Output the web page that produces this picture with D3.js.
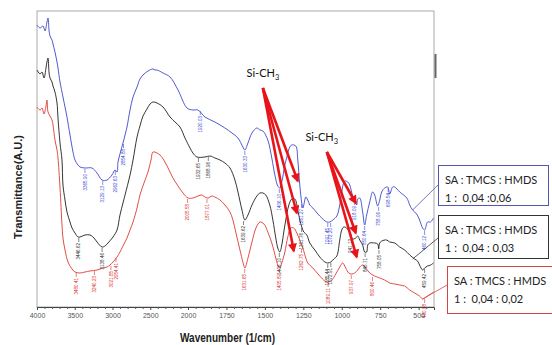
<!DOCTYPE html>
<html lang="en">
<head>
<meta charset="UTF-8">
<title>FTIR spectra</title>
<script src="https://d3js.org/d3.v7.min.js"></script>
<style>
  body { margin: 0; background: #fff; }
  svg text { font-family: "Liberation Sans", Arial, sans-serif; }
  .legend text, .anno text { font-family: Lato, "Open Sans", sans-serif; }
</style>
</head>
<body>
<script>
// [wavenumber (1/cm), transmittance (A.U.)]
const blueData = [[4000,70.5],[3960,69.75],[3921,70.25],[3894,69],[3868,71.25],[3854,72.25],[3841,69.25],[3828,67.75],[3801,66.75],[3788,65.75],[3762,63.75],[3735,61.25],[3722,59.75],[3695,56.25],[3656,52.5],[3629,50],[3603,47.5],[3563,43],[3523,38.75],[3497,36.75],[3457,35.5],[3430,35],[3364,34.75],[3272,34.75],[3205,33.5],[3139,31.75],[3073,31.75],[3007,33],[2967,34.25],[2940,33.75],[2927,36.25],[2901,38.25],[2861,41],[2834,43],[2808,45],[2768,49.25],[2728,52.5],[2675,55],[2636,57],[2596,58],[2530,59],[2464,59.5],[2437,59.25],[2411,59.25],[2331,58.5],[2238,57.5],[2132,54.25],[2013,49.75],[1968,49.25],[1935,49.25],[1890,47.5],[1825,46.25],[1760,44.75],[1714,43.5],[1675,42.25],[1643,40],[1630,39.25],[1610,41],[1584,43.5],[1552,44.75],[1532,44.25],[1513,44],[1481,41.75],[1455,37.25],[1435,33],[1416,30.25],[1403,29.75],[1390,31.25],[1370,35.5],[1357,37.5],[1338,40],[1325,40.5],[1299,40.25],[1286,36.75],[1273,30.5],[1260,26],[1253,24.75],[1240,26.75],[1234,27.5],[1221,26.75],[1208,25.5],[1188,24.75],[1143,22.75],[1097,21.25],[1078,21.25],[1058,21.75],[1032,22.75],[1013,25.5],[1000,28.75],[981,31.5],[961,31.25],[948,30.5],[929,27.75],[916,26.75],[903,25.5],[896,27],[883,27.25],[864,23.75],[851,20.5],[838,23],[818,26.25],[799,28.75],[786,28],[766,25.25],[753,26.75],[740,28.75],[721,29.75],[701,30],[688,28.25],[669,30],[656,30],[623,28.75],[577,27.25],[558,25.5],[539,24.25],[513,23.25],[494,21.75],[474,19.75],[461,19.25],[442,21.25],[422,21.25],[403,22.25]]

const blackData = [[4000,59.25],[3960,58.25],[3934,58.75],[3907,57.25],[3881,59.75],[3868,61.25],[3854,62.25],[3841,58.75],[3828,57.25],[3801,56.25],[3788,55.25],[3762,53.75],[3735,51],[3722,47.25],[3695,41],[3669,36.75],[3656,30.5],[3629,26.75],[3603,23.75],[3563,21.25],[3536,19.75],[3497,18.5],[3457,17.5],[3430,17.5],[3364,18],[3298,18],[3245,17.25],[3205,16.25],[3139,15],[3099,15.25],[3060,16],[2993,17.5],[2940,19.25],[2901,23],[2861,26],[2834,28],[2768,33],[2728,36.75],[2675,42.5],[2636,45.25],[2596,47.75],[2543,49.5],[2503,50.75],[2464,51.25],[2411,51],[2331,50],[2238,47.5],[2172,46.25],[2106,45],[2040,42.25],[1987,39.75],[1968,38.5],[1942,37.5],[1890,37.5],[1857,37.75],[1825,37.25],[1792,36.75],[1760,36],[1727,34.75],[1695,31.75],[1675,28.75],[1649,24.25],[1630,21.75],[1610,23],[1584,25.5],[1552,27.75],[1532,28.5],[1513,28.5],[1494,28],[1468,25.5],[1448,21.75],[1429,17.25],[1416,14.75],[1403,13.75],[1390,15.5],[1377,18.75],[1364,21.75],[1344,25.5],[1325,27],[1305,27],[1286,24.25],[1273,21.75],[1260,20],[1247,18.75],[1227,18],[1208,16],[1175,14.25],[1143,12.5],[1110,11.25],[1091,11],[1071,11.25],[1052,12],[1032,12.75],[1013,16.75],[1000,19.25],[987,20],[968,19.75],[948,18.5],[929,17],[909,17.25],[896,17.75],[883,16.75],[864,15.5],[851,13.75],[838,13.75],[831,15.5],[818,16],[786,16],[766,15.75],[760,14.5],[753,16],[740,16.5],[708,16.75],[688,16.25],[656,16],[623,15],[591,14.25],[558,13],[526,12],[507,11.5],[494,10.5],[474,9.25],[461,9.75],[442,10.25],[422,10.5],[403,11]]

const redData = [[4000,50],[3960,49.25],[3934,49.75],[3907,48.25],[3881,50.25],[3868,51.75],[3854,48.75],[3828,47.75],[3801,46.75],[3788,45.5],[3762,41.75],[3735,39.25],[3722,37.25],[3695,29.75],[3669,20.5],[3656,17.25],[3629,14.25],[3589,11.25],[3536,9.5],[3497,8.75],[3430,8.5],[3364,8.75],[3298,9],[3205,9.25],[3126,9.75],[3073,10],[3033,10.5],[2993,11.25],[2940,12.5],[2901,13.75],[2861,15.25],[2808,17.25],[2768,19.25],[2728,21.25],[2675,24.75],[2636,28],[2583,31],[2530,33.75],[2490,36.75],[2464,38.75],[2411,38.5],[2371,38],[2305,36.25],[2238,33.75],[2199,32.25],[2132,30.25],[2066,28.5],[2000,27.25],[1968,27.25],[1935,27.75],[1909,28],[1890,27.5],[1870,27.25],[1844,27.75],[1825,27.5],[1792,26.75],[1760,25.5],[1727,23.75],[1708,21.75],[1688,18.5],[1662,14.25],[1643,11.25],[1630,9.75],[1610,12.25],[1584,16.25],[1558,19.75],[1532,21.25],[1506,20.75],[1481,18.75],[1455,16],[1429,12.25],[1416,10.5],[1403,9.75],[1390,11],[1370,13.75],[1351,17.5],[1331,19.75],[1312,19.75],[1292,18.5],[1273,16.75],[1253,14.75],[1234,12.25],[1221,11],[1188,9.75],[1143,7.75],[1110,6.5],[1091,6.25],[1065,6.75],[1039,8.25],[1013,10],[994,11],[974,9.75],[955,8.5],[935,8.25],[916,8.5],[896,9.25],[877,10.25],[864,10.5],[844,9.75],[818,8.5],[786,7.75],[753,7.25],[721,6.75],[688,6],[656,5.75],[623,5.5],[591,5.25],[558,4.25],[526,3.5],[494,2.75],[474,2],[461,2.25],[442,2.75],[422,3.25],[403,3.75]]

// peak annotations [wavenumber, label]
const blueLabels = [[3365,"3365.90"],[3129,"3129.13"],[2962,"2962.63"],[2854,"2854.88"],[1920,"1920.03"],[1630,"1630.33"],[1406,"1406.10"],[1261,"1261.27"],[1091,"1091.45"],[1072,"1072.20"],[916,"918.09"],[851,"850.64"],[760,"758.06"],[698,"698.54"],[461,"460.12"]]
const blackLabels = [[3446,"3446.62"],[3138,"3138.46"],[1932,"1932.65"],[1868,"1868.96"],[1639,"1639.62"],[1406,"1406.10"],[1261,"1261.76"],[1091,"1085.44"],[1071,"1072.91"],[941,"941.12"],[848,"848.71"],[758,"758.05"],[461,"459.42"]]
const redLabels = [[3480,"3480.41"],[3240,"3240.23"],[3021,"3021.85"],[2954,"2954.41"],[2005,"2005.58"],[1877,"1877.01"],[1631,"1631.65"],[1405,"1405.89"],[1262,"1262.75"],[1089,"1089.11"],[938,"937.97"],[800,"800.46"],[461,"460.88"]]

const majorTicks = [4000, 3500, 3000, 2500, 2000, 1750, 1500, 1250, 1000, 750, 500]
const minorTicks = d3.range(3900, 2000, -100).concat(d3.range(1950, 400, -50))

const legendTitles = ["SA : TMCS : HMDS", "SA : TMCS : HMDS", "SA : TMCS : HMDS"]
const legendRatios = ["1 :  0,04 :0,06", "1 :  0,04 : 0,03", "1 :  0,04 : 0,02"]

// Si-CH3 arrows: label position, arrow origin, arrow targets
const siLabels = [[1513, 57.5], [1130, 41.5]]
const arrowGroups = [
    { from: [1513, 54.75], to: [[1286, 31.5], [1292, 23.5], [1312, 14]] },
    { from: [1097, 38.75], to: [[909, 26], [909, 18.5], [903, 12.5]] }
]

const width = 552, height = 345
const x = d3.scaleLinear().domain([4000, 2000, 400]).range([37, 188, 434])
const y = d3.scaleLinear().domain([0, 74]).range([307, 11])

const series = [
    { data: blueData, labels: blueLabels, color: "#3c46c8", labelColor: "#3a48d0", connect: 539, box: { x: 438, y: 165, w: 110, h: 40, stroke: "#5555b0" }, end: 185 },
    { data: blackData, labels: blackLabels, color: "#1e1e1e", labelColor: "#333", connect: 539, box: { x: 438, y: 215, w: 110, h: 43, stroke: "#333" }, end: 238 },
    { data: redData, labels: redLabels, color: "#de3a34", labelColor: "#d83030", connect: 474, box: { x: 447, y: 266, w: 112, h: 47, stroke: "#d64545" }, end: 285 }
]

const svg = d3.select("body").append("svg")
    .attr("width", width)
    .attr("height", height)

svg.append("rect").attr("width", width).attr("height", height).attr("fill", "#fff")

svg.append("rect")
    .attr("x", 37).attr("y", 11)
    .attr("width", 434 - 37).attr("height", 307 - 11)
    .attr("fill", "none").attr("stroke", "#aaa")
svg.append("line")
    .attr("x1", 435.5).attr("x2", 435.5).attr("y1", 54).attr("y2", 78)
    .attr("stroke", "#666").attr("stroke-width", 2)

const line = d3.line()
    .x(d => x(d[0]))
    .y(d => y(d[1]))
    .curve(d3.curveCatmullRom.alpha(0.5))

series.forEach(s => {
    svg.append("path")
        .attr("d", line(s.data))
        .attr("fill", "none")
        .attr("stroke", s.color)
        .attr("stroke-width", 0.9)
})

// peak labels
series.forEach(s => {
    const g = svg.append("g").attr("fill", s.labelColor)
    s.labels.forEach(([wn, txt]) => {
        const p = d3.least(s.data, d => Math.abs(d[0] - wn))
        const px = x(wn), py = y(p[1])
        g.append("line")
            .attr("x1", px).attr("x2", px)
            .attr("y1", py + 1).attr("y2", py + 5)
            .attr("stroke", s.labelColor).attr("stroke-width", 0.6)
        g.append("text")
            .attr("transform", `translate(${px},${py + 6}) rotate(-90)`)
            .attr("text-anchor", "end")
            .attr("dy", "0.35em")
            .style("font-size", "4.6px")
            .text(txt)
    })
})

// x axis
const xAxis = svg.append("g")
    .attr("transform", "translate(0,307)")
    .call(d3.axisBottom(x).tickValues(majorTicks).tickSize(3).tickFormat(d3.format("d")))
xAxis.select(".domain").attr("stroke", "#444")
xAxis.selectAll(".tick line").attr("stroke", "#444")
xAxis.selectAll("text").attr("fill", "#555").style("font-size", "7px")

const minor = svg.append("g")
    .attr("transform", "translate(0,307)")
    .call(d3.axisBottom(x).tickValues(minorTicks.filter(t => !majorTicks.includes(t))).tickSize(2).tickFormat(""))
minor.select(".domain").remove()
minor.selectAll(".tick line").attr("stroke", "#555")

svg.append("text")
    .attr("x", 180).attr("y", 342)
    .attr("textLength", 95)
    .attr("lengthAdjust", "spacingAndGlyphs")
    .style("font-weight", "bold")
    .style("font-size", "12.5px")
    .attr("fill", "#222")
    .text("Wavenumber (1/cm)")

svg.append("text")
    .attr("transform", "translate(22,187) rotate(-90)")
    .attr("text-anchor", "middle")
    .style("font-weight", "bold")
    .style("font-size", "11px")
    .attr("fill", "#222")
    .text("Transmittance(A.U.)")

// Si-CH3 arrows
const defs = svg.append("defs")
defs.append("marker")
    .attr("id", "head")
    .attr("viewBox", "0 0 10 10")
    .attr("refX", 8).attr("refY", 5)
    .attr("markerUnits", "userSpaceOnUse")
    .attr("markerWidth", 10).attr("markerHeight", 9)
    .attr("orient", "auto")
    .append("path")
    .attr("d", "M0,0 L10,5 L0,10 z")
    .attr("fill", "#e8141a")

const anno = svg.append("g").attr("class", "anno")
arrowGroups.forEach(a => {
    a.to.forEach(t => {
        anno.append("line")
            .attr("x1", x(a.from[0])).attr("y1", y(a.from[1]))
            .attr("x2", x(t[0])).attr("y2", y(t[1]))
            .attr("stroke", "#e8141a")
            .attr("stroke-width", 2.6)
            .attr("marker-end", "url(#head)")
    })
})
siLabels.forEach(p => {
    const t = anno.append("text")
        .attr("x", x(p[0])).attr("y", y(p[1]))
        .attr("text-anchor", "middle")
        .style("font-size", "11px")
        .attr("fill", "#111")
    t.append("tspan").text("Si-CH")
    t.append("tspan").attr("dy", 3).style("font-size", "7.5px").text("3")
})

// legend boxes with connectors
const legend = svg.append("g").attr("class", "legend")
series.forEach((s, i) => {
    const p = d3.least(s.data, d => Math.abs(d[0] - s.connect))
    legend.append("line")
        .attr("x1", x(s.connect)).attr("y1", y(p[1]))
        .attr("x2", s.box.x).attr("y2", s.end)
        .attr("stroke", s.box.stroke).attr("stroke-width", 0.8)
    legend.append("rect")
        .attr("x", s.box.x + 0.5).attr("y", s.box.y + 0.5)
        .attr("width", s.box.w).attr("height", s.box.h)
        .attr("fill", "#fff")
        .attr("stroke", s.box.stroke)
    legend.append("text")
        .attr("x", s.box.x + 7).attr("y", s.box.y + 19)
        .style("font-size", "11px").attr("fill", "#222")
        .text(legendTitles[i])
    legend.append("text")
        .attr("x", s.box.x + 7).attr("y", s.box.y + 37)
        .style("font-size", "11px").attr("fill", "#222")
        .style("white-space", "pre")
        .text(legendRatios[i])
})
</script>
</body>
</html>
